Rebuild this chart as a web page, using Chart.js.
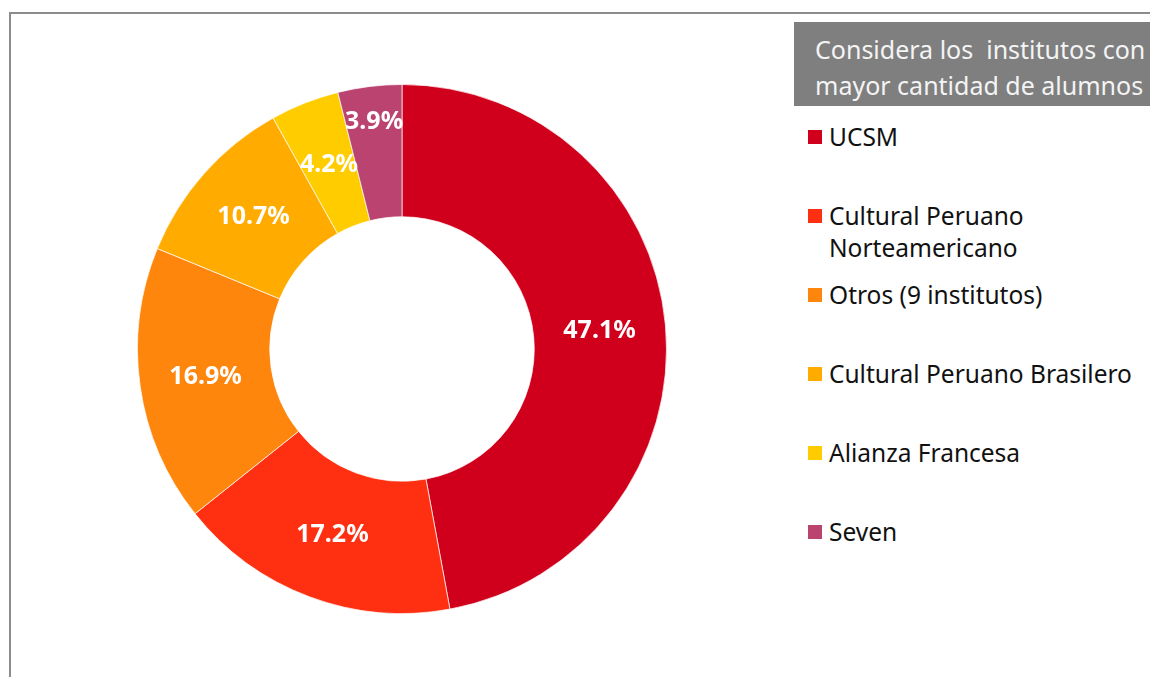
<!DOCTYPE html>
<html>
<head>
<meta charset="utf-8">
<script src="https://cdn.jsdelivr.net/npm/chart.js@4"></script>
<style>
  html, body { margin: 0; padding: 0; background: #fff; }
  body { width: 1150px; height: 677px; position: relative; overflow: hidden; font-family: "Noto Sans", sans-serif; }
  #frame { position: absolute; left: 9px; top: 12px; width: 1160px; height: 700px; border-top: 2px solid #8c8c8c; border-left: 2px solid #8c8c8c; }
  #chart-box { position: absolute; left: 137px; top: 84px; width: 530px; height: 530px; }
  #header { position: absolute; left: 794px; top: 22px; width: 370px; height: 84px; background: #7f7f7f; color: #f4f4f4; font-size: 25px; line-height: 36px; padding-top: 9px; box-sizing: border-box; padding-left: 21px; white-space: pre; }
  #legend { position: absolute; left: 808px; top: 121px; margin: 0; padding: 0; list-style: none; }
  #legend li { height: 79px; display: flex; align-items: flex-start; font-size: 24.5px; line-height: 32px; color: #111; }
  #legend .box { width: 14px; height: 14px; margin-top: 9px; margin-right: 7px; flex: none; }
</style>
</head>
<body>
<div id="frame"></div>
<div id="chart-box"><canvas id="donut"></canvas></div>
<div id="header"></div>
<ul id="legend"></ul>
<script>
const labels = ["UCSM", "Cultural Peruano\nNorteamericano", "Otros (9 institutos)", "Cultural Peruano Brasilero", "Alianza Francesa", "Seven"];
const shares = [47.1, 17.2, 16.9, 10.7, 4.2, 3.9];
const colors = ["#d0001c", "#ff3011", "#ff860d", "#ffab00", "#ffcc00", "#bb436f"];
const headerLines = ["Considera los  institutos con", "mayor cantidad de alumnos"];

document.getElementById("header").textContent = headerLines.join("\n");

const legend = document.getElementById("legend");
labels.forEach((name, i) => {
  const li = document.createElement("li");
  const box = document.createElement("span");
  box.className = "box";
  box.style.background = colors[i];
  const txt = document.createElement("span");
  txt.innerHTML = name.split("\n").join("<br>");
  li.appendChild(box);
  li.appendChild(txt);
  legend.appendChild(li);
});

// percent labels drawn at the middle of each arc
const pctLabels = {
  id: "pctLabels",
  afterDatasetsDraw(chart) {
    const ctx = chart.ctx;
    const meta = chart.getDatasetMeta(0);
    ctx.save();
    ctx.font = "bold 25px 'Noto Sans'";
    ctx.fillStyle = "#fff";
    ctx.textAlign = "center";
    ctx.textBaseline = "middle";
    meta.data.forEach((arc, i) => {
      const v = chart.data.datasets[0].data[i];
      let { x, y } = arc.tooltipPosition();
      if (v < 4) {
        // smallest slice label sits nearer the rim
        const cx = arc.x, cy = arc.y;
        const dx = x - cx, dy = y - cy, d = Math.hypot(dx, dy);
        x = cx + dx * (d + 30) / d;
        y = cy + dy * (d + 30) / d;
      }
      ctx.fillText(v.toFixed(1) + "%", x, y);
    });
    ctx.restore();
  }
};

new Chart(document.getElementById("donut").getContext("2d"), {
  type: "doughnut",
  data: {
    labels: labels.map(l => l.replace("\n", " ")),
    datasets: [{ data: shares, backgroundColor: colors, borderColor: "rgba(255,255,255,0.7)", borderWidth: 1 }]
  },
  options: {
    responsive: true,
    maintainAspectRatio: false,
    animation: false,
    cutout: "50%",
    plugins: { legend: { display: false }, tooltip: { enabled: false } }
  },
  plugins: [pctLabels]
});
</script>
</body>
</html>
